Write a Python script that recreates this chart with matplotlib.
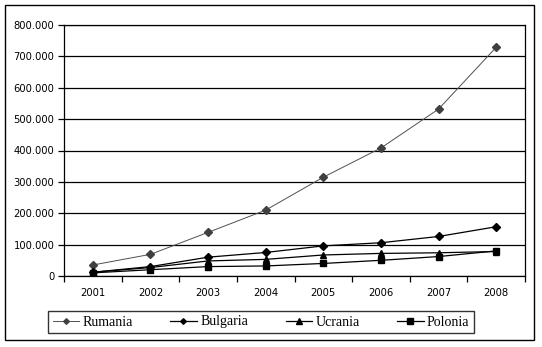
import numpy as np
import matplotlib
matplotlib.use('Agg')
from matplotlib import pyplot as plt
from matplotlib.patches import Rectangle
from matplotlib.ticker import FuncFormatter

# yearly values per country
years = ['2001', '2002', '2003', '2004', '2005', '2006', '2007', '2008']
rumania = [35000, 69000, 139000, 210000, 315000, 408000, 532000, 729000]
bulgaria = [12000, 30000, 60000, 75000, 96000, 106000, 126000, 157000]
ucrania = [12000, 27000, 48000, 53000, 67000, 72000, 74000, 78000]
polonia = [10000, 20000, 30000, 32000, 40000, 50000, 62000, 80000]

fig = plt.figure(figsize=(5.42, 3.47), dpi=100)
fig.patch.set_facecolor('white')

# outer chart border
fig.patches.append(Rectangle((5/542, 1-340/347), 529/542, 335/347, transform=fig.transFigure,
                             fill=False, edgecolor='black', linewidth=1.0))

ax = fig.add_axes([64/542, 1-276/347, 461/542, 251/347])
x = np.arange(len(years))

ax.plot(x, rumania, color='#505050', linewidth=0.7, marker='D', markersize=3.8,
        markerfacecolor='#404040', markeredgecolor='#404040', label='Rumania')
ax.plot(x, bulgaria, color='black', linewidth=0.9, marker='D', markersize=3.8, label='Bulgaria')
ax.plot(x, ucrania, color='black', linewidth=0.9, marker='^', markersize=5, label='Ucrania')
ax.plot(x, polonia, color='black', linewidth=0.9, marker='s', markersize=5, label='Polonia')

ax.set_xlim(-0.5, len(years) - 0.5)
ax.set_ylim(0, 800000)
ax.set_yticks(np.arange(0, 800001, 100000))
ax.yaxis.set_major_formatter(FuncFormatter(lambda v, p: '0' if v == 0 else f'{int(v):,}'.replace(',', '.')))
ax.yaxis.grid(True, color='black', linewidth=0.9)
ax.set_axisbelow(True)

# category labels centred, ticks between categories
ax.set_xticks(x)
ax.set_xticklabels(years)
ax.set_xticks(np.arange(-0.5, len(years), 1), minor=True)
ax.tick_params(axis='x', which='major', length=0, pad=9)
ax.tick_params(axis='x', which='minor', length=4, direction='out', width=0.9)
ax.tick_params(axis='y', length=4, direction='out', width=0.9, pad=3)
for lab in ax.get_xticklabels() + ax.get_yticklabels():
    lab.set_fontfamily('DejaVu Sans')
    lab.set_fontsize(7.2)

for s in ax.spines.values():
    s.set_color('black')
    s.set_linewidth(0.9)

leg = fig.legend(loc='center', bbox_to_anchor=(261/542, 1-322/347), ncol=4,
                 prop={'family': 'Liberation Serif', 'size': 10}, frameon=True,
                 fancybox=False, edgecolor='black', handlelength=1.9, handletextpad=0.25,
                 columnspacing=2.7, borderpad=0.3, markerscale=0.75)
leg.get_frame().set_linewidth(1.0)

fig.savefig('out.png', dpi=100, facecolor='white')
